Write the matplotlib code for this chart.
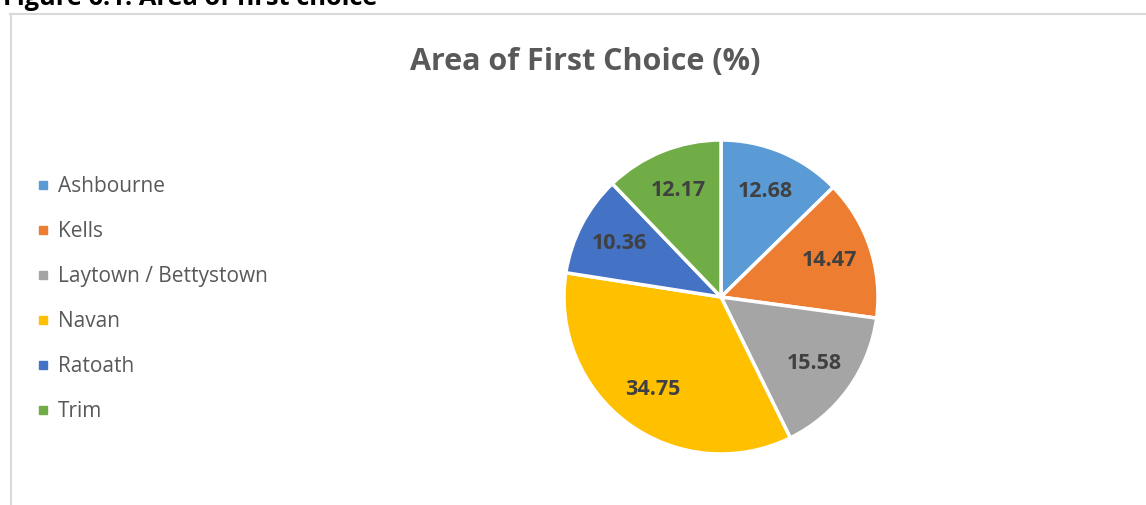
import matplotlib.pyplot as plt
from matplotlib.lines import Line2D
import numpy as np

plt.rcParams['font.family'] = ['Open Sans', 'DejaVu Sans']

# data
areas = ['Ashbourne', 'Kells', 'Laytown / Bettystown', 'Navan', 'Ratoath', 'Trim']
shares = [12.68, 14.47, 15.58, 34.75, 10.36, 12.17]
colors = ['#5B9BD5', '#ED7D31', '#A5A5A5', '#FFC000', '#4472C4', '#70AD47']

fig = plt.figure(figsize=(11.46, 5.05), dpi=100)

# chart area border (gray frame, cut at right/bottom)
fig.add_artist(Line2D([10/1146, 1], [1 - 14/505, 1 - 14/505], color='#D9D9D9', lw=1.5))
fig.add_artist(Line2D([11/1146, 11/1146], [0, 1 - 14/505], color='#D9D9D9', lw=1.5))

# caption, cut off at the top like in the source
fig.text(3/1146, 1 - 5/505, 'Figure 6.1: Area of first choice', fontsize=18.3,
         fontweight='bold', color='black', va='baseline', ha='left')

# title
fig.text(585/1146, 1 - 62/505, 'Area of First Choice (%)', fontsize=22,
         fontweight='bold', color='#595959', ha='center', va='center')

# pie
ax = fig.add_axes([(721 - 157)/1146, (505 - 297 - 157)/505, 314/1146, 314/505])
wedges, _ = ax.pie(shares, colors=colors, startangle=90, counterclock=False,
                   wedgeprops=dict(edgecolor='white', linewidth=2.5))
ax.set_xlim(-1, 1)
ax.set_ylim(-1, 1)

for w, v in zip(wedges, shares):
    ang = np.deg2rad((w.theta1 + w.theta2) / 2)
    ax.text(0.73*np.cos(ang), 0.73*np.sin(ang), f'{v:.2f}', ha='center', va='center',
            fontsize=15.5, fontweight='bold', color='#404040')

# legend
handles = [Line2D([], [], marker='s', linestyle='', markersize=6, color=c) for c in colors]
leg = fig.legend(handles, areas, loc='upper left', bbox_to_anchor=(25/1146, 1 - 168/505),
                 frameon=False, fontsize=15, labelspacing=1.15, handletextpad=0.3,
                 handlelength=0.9, labelcolor='#595959', borderaxespad=0)

fig.savefig('out.png')
